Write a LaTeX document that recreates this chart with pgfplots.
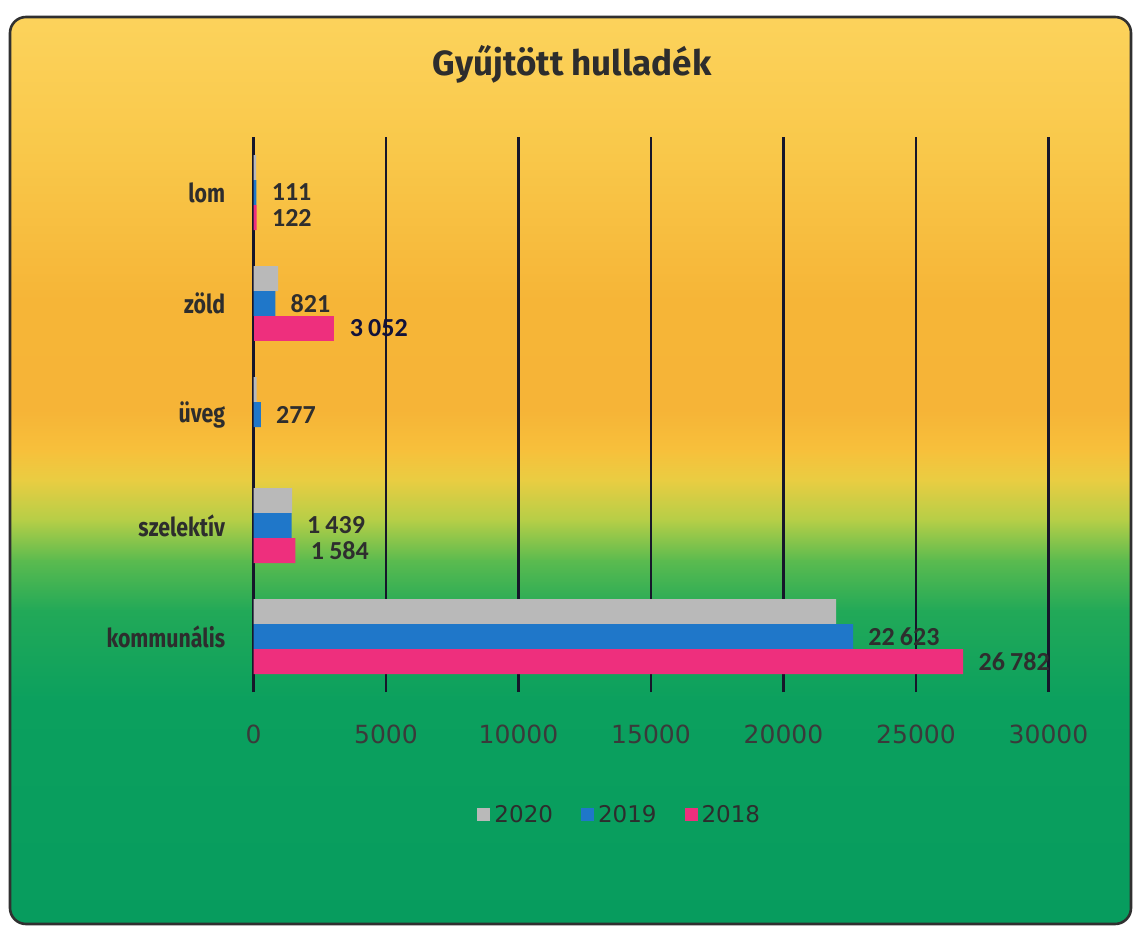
\documentclass[border=0pt]{standalone}
\usepackage{fontspec}
\usepackage{pgfplots}
\pgfplotsset{compat=1.18}
\setmainfont{DejaVu Sans}
\newfontfamily\catfont{Fira Sans}[FakeStretch=0.82]
\newfontfamily\titlefont{Fira Sans}
\newfontfamily\lblfont{Carlito}
\definecolor{cGray}{HTML}{B9B9B9}
\definecolor{cBlue}{HTML}{1F77C9}
\definecolor{cPink}{HTML}{EE2F7D}
\definecolor{txt}{HTML}{2D2D2D}
\definecolor{tickc}{HTML}{3A3A3A}
\definecolor{lblc}{HTML}{2E2E2E}
\definecolor{navy}{HTML}{12123A}
\definecolor{gridc}{HTML}{16162A}
\definecolor{borderc}{HTML}{303030}
\definecolor{g01}{HTML}{FCD35C}
\definecolor{g02}{HTML}{F9C84A}
\definecolor{g03}{HTML}{F6B537}
\definecolor{g04}{HTML}{F6B437}
\definecolor{g05}{HTML}{F7C03B}
\definecolor{g06}{HTML}{E9CD42}
\definecolor{g07}{HTML}{B5CE47}
\definecolor{g08}{HTML}{5BBB4F}
\definecolor{g09}{HTML}{22A958}
\definecolor{g10}{HTML}{0BA05E}
\definecolor{g11}{HTML}{079C5E}
\begin{document}
\begin{tikzpicture}[x=0.5pt,y=0.5pt]
\useasboundingbox (0,0) rectangle (1134,928);
\fill[white] (0,0) rectangle (1134,928);
\begin{scope}
\clip[rounded corners=8pt] (10,4) rectangle (1131,911);
\shade[top color=g01,bottom color=g02] (0,777) rectangle (1134,915);
\shade[top color=g02,bottom color=g03] (0,627) rectangle (1134,778);
\shade[top color=g03,bottom color=g04] (0,517) rectangle (1134,628);
\shade[top color=g04,bottom color=g05] (0,477) rectangle (1134,518);
\shade[top color=g05,bottom color=g06] (0,447) rectangle (1134,478);
\shade[top color=g06,bottom color=g07] (0,407) rectangle (1134,448);
\shade[top color=g07,bottom color=g08] (0,367) rectangle (1134,408);
\shade[top color=g08,bottom color=g09] (0,317) rectangle (1134,368);
\shade[top color=g09,bottom color=g10] (0,227) rectangle (1134,318);
\shade[top color=g10,bottom color=g11] (0,0) rectangle (1134,228);
\end{scope}
\draw[line width=1.3pt, color=borderc, rounded corners=8pt] (10,4) rectangle (1131,911);
\node[font=\titlefont\bfseries\fontsize{17.5}{20}\selectfont, text=txt] at (572,864) {Gyűjtött hulladék};
\begin{axis}[
  at={(126.75pt,118pt)}, anchor=south west,
  scale only axis, width=397.5pt, height=277.5pt,
  xbar, bar width=12.5pt,
  xmin=0, xmax=30000, ymin=-0.5, ymax=4.5,
  xtick={0,5000,...,30000},
  scaled x ticks=false,
  ytick={0,1,2,3,4},
  yticklabels={kommunális,szelektív,üveg,zöld,lom},
  axis line style={draw=none},
  major tick length=0pt,
  xmajorgrids, grid style={color=gridc, line width=1.1pt},
  /pgf/number format/assume math mode=true,
  /pgf/number format/1000 sep={},
  xticklabel style={font=\fontsize{12.5}{14}\selectfont, text=tickc, anchor=north, inner sep=0pt, yshift=-16.5pt},
  yticklabel style={font=\catfont\bfseries\fontsize{13}{15}\selectfont, text=txt, anchor=east, inner sep=0pt, xshift=-14pt},
  legend style={at={(0.462,-0.2216)}, anchor=center, draw=none, fill=none, legend columns=3,
    font=\fontsize{11.5}{13}\selectfont, text=txt,
    /tikz/every even column/.append style={column sep=12pt}},
  legend image code/.code={\path[#1,draw=none] (0pt,-3.25pt) rectangle (6.5pt,3.25pt);},
  lbl/.style={nodes near coords={\pgfmathprintnumber[1000 sep={\hspace{0.2em}}]{\pgfplotspointmeta}},
    point meta=x,
    every node near coord/.append style={font=\lblfont\bfseries\fontsize{13}{15}\selectfont, text=#1, anchor=west, inner sep=0pt, xshift=7.5pt}},
]
\addplot[fill=cGray, draw=none, bar shift=12.5pt] coordinates {(21990,0) (1460,1) (120,2) (930,3) (100,4)};
\addlegendentry{2020}
\addplot[fill=cBlue, draw=none, bar shift=0pt, lbl=lblc] coordinates {(22623,0) (1439,1) (277,2) (821,3) (111,4)};
\addlegendentry{2019}
\addplot[fill=cPink, draw=none, bar shift=-12.5pt, lbl=lblc] coordinates {(26782,0) (1584,1) (122,4)};
\addlegendentry{2018}
\addplot[fill=cPink, draw=none, bar shift=-12.5pt, lbl=navy, forget plot] coordinates {(3052,3)};
\end{axis}
\end{tikzpicture}
\end{document}
